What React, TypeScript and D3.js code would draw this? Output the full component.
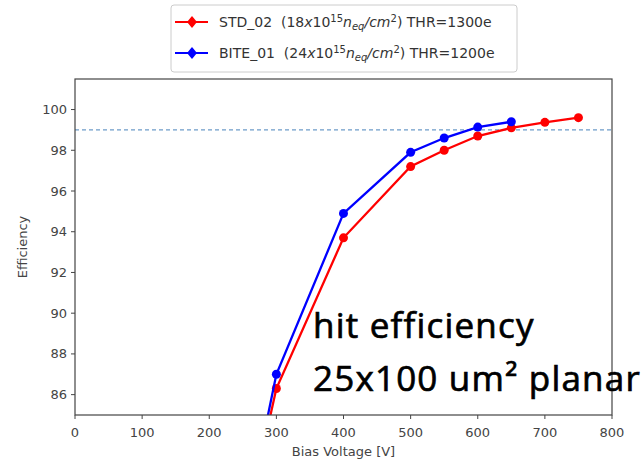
import React from "react";
import * as d3 from "d3";

// STD_02 and BITE_01 efficiency vs bias voltage
const stdVoltage = [250, 300, 400, 500, 550, 600, 650, 700, 750];
const stdEff = [78.9, 86.3, 93.7, 97.2, 98.0, 98.7, 99.1, 99.37, 99.6];
const biteVoltage = [250, 300, 400, 500, 550, 600, 650];
const biteEff = [79.0, 87.0, 94.9, 97.9, 98.6, 99.14, 99.4];
const xTicks = [0, 100, 200, 300, 400, 500, 600, 700, 800];
const yTicks = [86, 88, 90, 92, 94, 96, 98, 100];
const refLine = 99;

const W = 644;
const H = 461;
const left = 75;
const right = 612;
const top = 79;
const bottom = 415;

const font = "DejaVu Sans, sans-serif";
const tickColor = "#444";

const App = () => {
  const x = d3.scaleLinear().domain([0, 800]).range([left, right]);
  const y = d3.scaleLinear().domain([85, 101.5]).range([bottom, top]);

  const line = d3
    .line<[number, number]>()
    .x((d) => x(d[0]))
    .y((d) => y(d[1]));

  const series = [
    { v: stdVoltage, e: stdEff, color: "#f00" },
    { v: biteVoltage, e: biteEff, color: "#00f" },
  ];

  const legendRow = (cy: number, color: string, name: string, fl: string, thr: string) => (
    <g>
      <line x1={175} x2={208} y1={cy} y2={cy} stroke={color} strokeWidth={2} />
      <path d={`M192,${cy - 6} L197,${cy} L192,${cy + 6} L187,${cy} Z`} fill={color} />
      <text x={219} y={cy + 5} fontSize={14} fill="#333" fontFamily={font}>
        {name + "\u00a0\u00a0(" + fl}
        <tspan fontStyle="italic">x</tspan>
        10
        <tspan dy={-5} fontSize={10}>15</tspan>
        <tspan dy={5} fontStyle="italic">n</tspan>
        <tspan dy={3} fontSize={10} fontStyle="italic">eq</tspan>
        <tspan dy={-3} fontStyle="italic">/cm</tspan>
        <tspan dy={-5} fontSize={10}>2</tspan>
        <tspan dy={5}>{") THR=" + thr}</tspan>
      </text>
    </g>
  );

  return (
    <svg
      width={W}
      height={H}
      style={{ position: "absolute", left: 0, top: 0, background: "#fff" }}
    >
      <defs>
        <clipPath id="plot">
          <rect x={left} y={top} width={right - left} height={bottom - top} />
        </clipPath>
      </defs>

      {/* legend */}
      <rect x={171} y={5} width={346} height={67} rx={3} fill="#fff" stroke="#ccc" />
      {legendRow(22, "#f00", "STD_02", "18", "1300e")}
      {legendRow(53, "#00f", "BITE_01", "24", "1200e")}

      {/* reference line */}
      <line
        x1={left}
        x2={right}
        y1={y(refLine)}
        y2={y(refLine)}
        stroke="#6d9cc9"
        strokeWidth={1.2}
        strokeDasharray="4,3"
      />

      <g clipPath="url(#plot)">
        {series.map((s, i) => {
          const pts = s.v.map((v, j) => [v, s.e[j]] as [number, number]);
          return (
            <g key={i}>
              <path d={line(pts) || ""} fill="none" stroke={s.color} strokeWidth={2.3} />
              {pts.map((p, j) => (
                <circle key={j} cx={x(p[0])} cy={y(p[1])} r={4.5} fill={s.color} />
              ))}
            </g>
          );
        })}
      </g>

      {/* frame */}
      <rect x={left} y={top} width={right - left} height={bottom - top} fill="none" stroke="#444" strokeWidth={1.2} />

      {/* x axis */}
      {xTicks.map((t) => (
        <g key={t}>
          <line x1={x(t)} x2={x(t)} y1={bottom} y2={bottom + 4} stroke="#444" />
          <text x={x(t)} y={bottom + 22} textAnchor="middle" fontSize={13} fill={tickColor} fontFamily={font}>
            {t}
          </text>
        </g>
      ))}
      <text x={(left + right) / 2} y={456} textAnchor="middle" fontSize={13} fill={tickColor} fontFamily={font}>
        Bias Voltage [V]
      </text>

      {/* y axis */}
      {yTicks.map((t) => (
        <g key={t}>
          <line x1={left - 4} x2={left} y1={y(t)} y2={y(t)} stroke="#444" />
          <text x={left - 8} y={y(t) + 4.5} textAnchor="end" fontSize={13} fill={tickColor} fontFamily={font}>
            {t}
          </text>
        </g>
      ))}
      <text
        transform={`translate(27,${(top + bottom) / 2}) rotate(-90)`}
        textAnchor="middle"
        fontSize={13}
        fill={tickColor}
        fontFamily={font}
      >
        Efficiency
      </text>

      {/* annotation */}
      <text x={313} y={338} fontSize={35} stroke="#000" strokeWidth={0.7} letterSpacing={1.2} fill="#000" fontFamily="Open Sans, Lato, sans-serif">
        hit efficiency
      </text>
      <text x={313} y={391} fontSize={35} stroke="#000" strokeWidth={0.7} letterSpacing={1.2} fill="#000" fontFamily="Open Sans, Lato, sans-serif">
        25x100 um² planar
      </text>
    </svg>
  );
};

export default App;
